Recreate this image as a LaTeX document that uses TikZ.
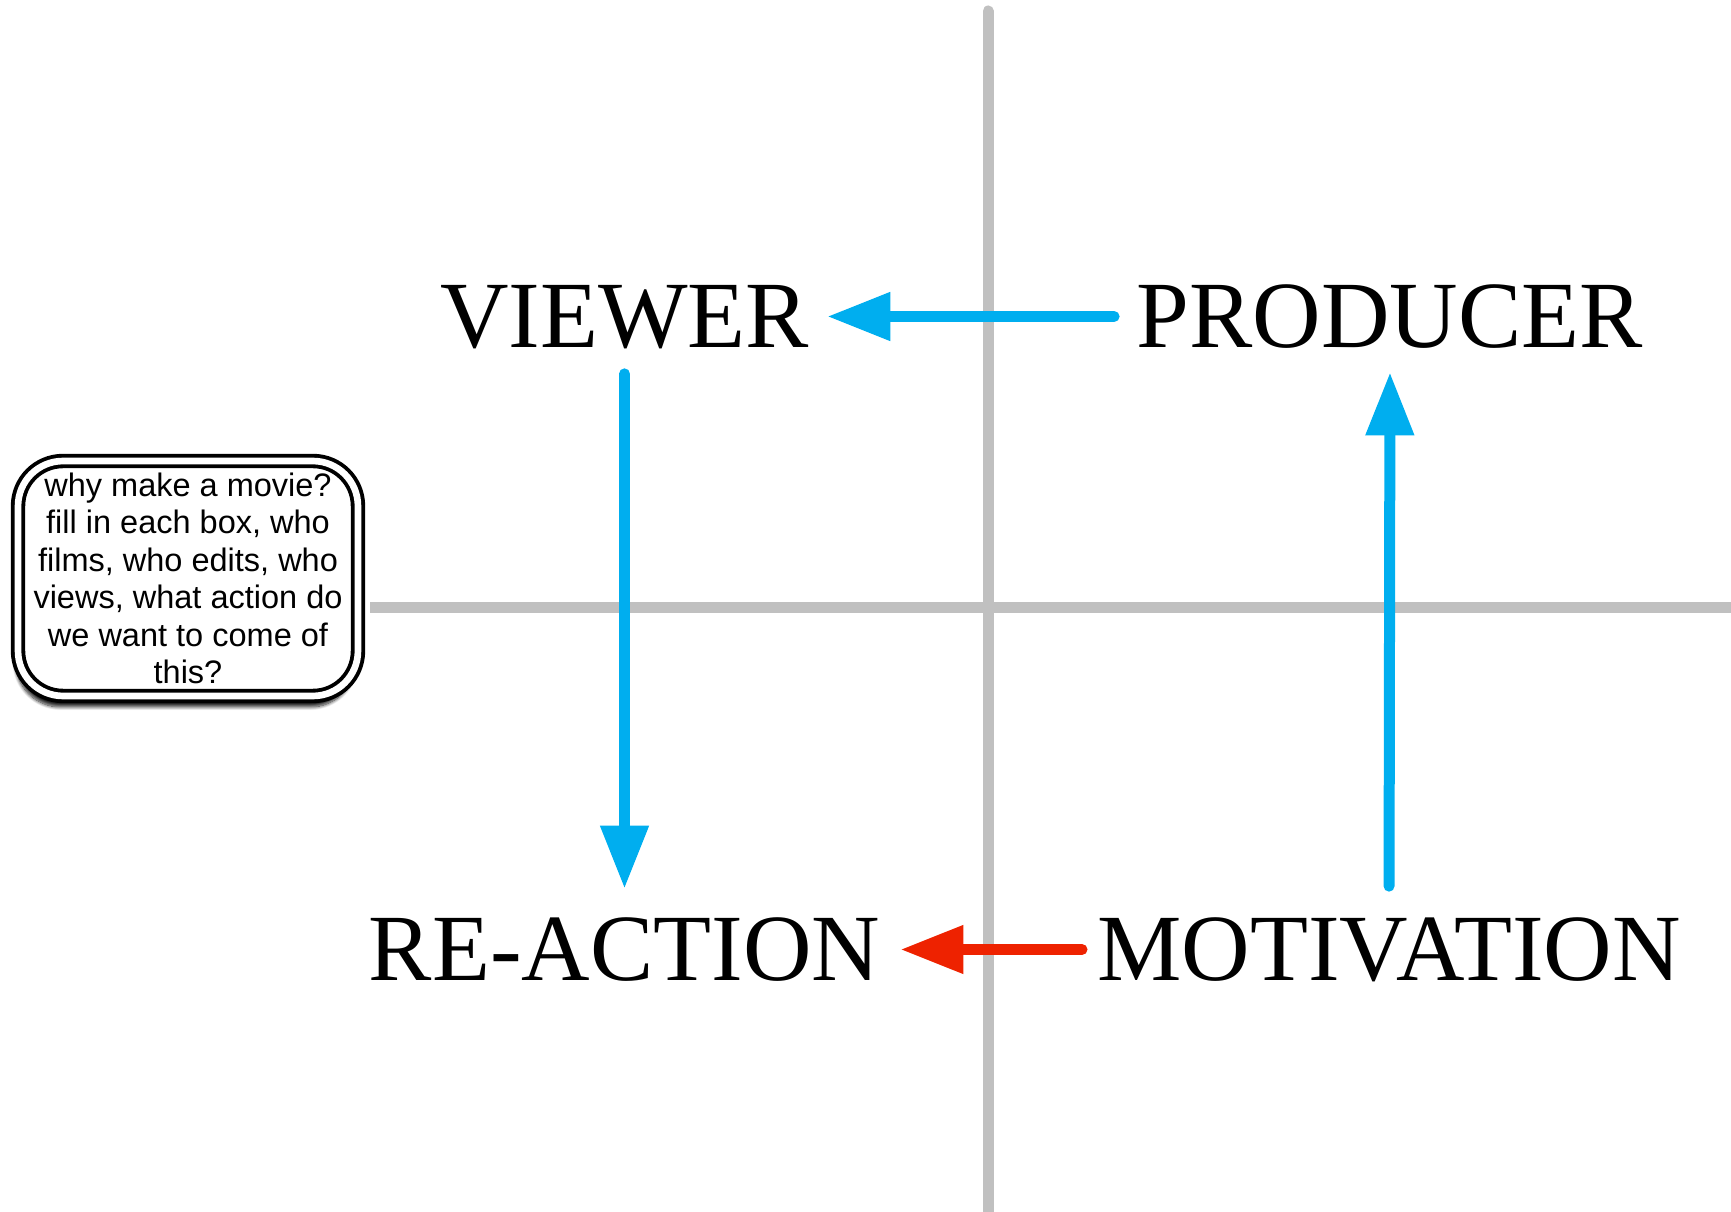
\documentclass[tikz,border=0pt]{standalone}
\usepackage{fontspec}
\setmainfont{Liberation Serif}
\newfontfamily\notefont{Liberation Sans}
\usetikzlibrary{arrows.meta,positioning,shadows.blur}

\definecolor{flowblue}{RGB}{0,174,239}
\definecolor{flowred}{RGB}{238,34,0}
\definecolor{gridgrey}{RGB}{192,192,192}

\begin{document}
\begin{tikzpicture}[x=0.02cm, y=-0.02cm,
	gridline/.style={line width=0.22cm, gridgrey, line cap=round},
	bigword/.style={inner sep=0pt, text height=1.26cm, text depth=0pt,
		font=\fontsize{54}{60}\selectfont},
	flow/.style={line width=0.22cm, line cap=round,
		-{Triangle[length=1.26cm, width=0.92cm]}},
	notebox/.style={draw, line width=2.2pt, double=white, double distance=3.8pt,
		rounded corners=0.9cm, fill=white, minimum width=6.8cm, minimum height=4.7cm,
		align=center, inner sep=0pt, font=\notefont\fontsize{18.5}{21.3}\selectfont,
		blur shadow={shadow xshift=-0.05cm, shadow yshift=-0.22cm, shadow blur steps=10, shadow opacity=85}}]

	\useasboundingbox (0,0) rectangle (1731,1212);

	\def\xMid{988}
	\def\yMid{608}

	% grid
	\draw [gridline] (\xMid, 11) -- (\xMid, 1230);
	\draw [gridline, line cap=butt] (370, \yMid) -- (1740, \yMid);

	% words
	\node [bigword] (viewer) at (624.5, 316.5) {VIEWER};
	\node [bigword] (producer) at (1390, 316.5) {PRODUCER};
	\node [bigword] (reaction) at (624.5, 949.5) {RE-ACTION};
	\node [bigword] (motivation) at (1389, 949.5) {MOTIVATION};

	% note
	\node [notebox] (note) at (188, 578.5)
		{why make a movie?\\fill in each box, who\\films, who edits, who\\views, what action do\\we want to come of\\this?};

	% arrows
	\draw [flow, flowblue, shorten <=0.45cm, shorten >=0.36cm]
		(producer.west) -- (viewer.east);
	\draw [flow, flowblue, shorten <=0.51cm, shorten >=0.58cm]
		(viewer.south) -- (reaction.north);
	\draw [flow, flowblue, shorten <=0.63cm, shorten >=0.48cm]
		(motivation.north) -- (producer.south);
	\draw [flow, flowred, shorten <=0.3cm, shorten >=0.4cm]
		(motivation.west) -- (reaction.east);

\end{tikzpicture}
\end{document}
